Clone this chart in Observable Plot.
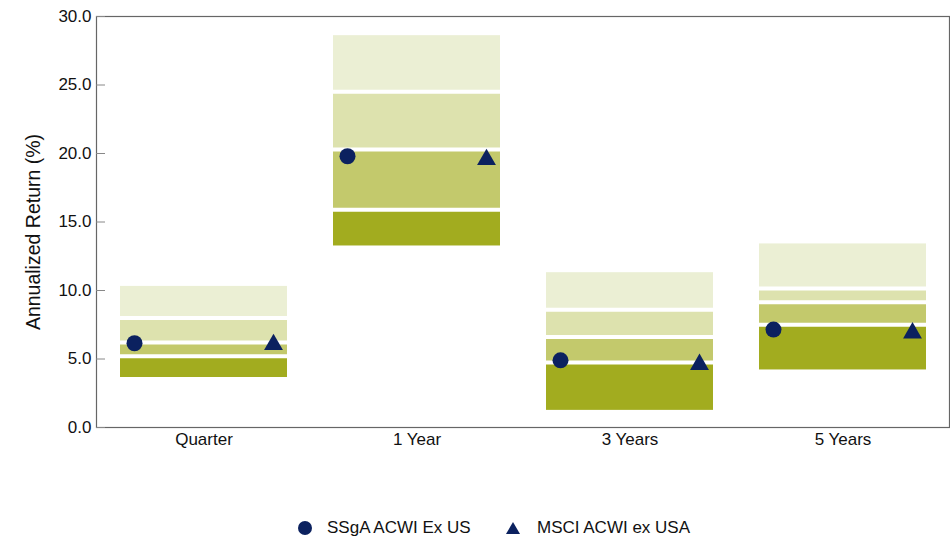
<!DOCTYPE html>
<html><head><meta charset="utf-8">
<script src="https://cdn.jsdelivr.net/npm/d3@7"></script>
<script src="https://cdn.jsdelivr.net/npm/@observablehq/plot@0.6"></script>
<style>
body{margin:0;background:#fff;font-family:"Liberation Sans",Arial,sans-serif;}
#wrap{position:relative;width:950px;height:541px;overflow:hidden;}
.leg{position:absolute;top:516px;height:24px;display:flex;align-items:center;font-size:17px;color:#111;white-space:nowrap;}
</style></head><body>
<div id="wrap"><div id="chart"></div>
<div class="leg" style="left:298px"><svg width="14" height="14" viewBox="-7 -7 14 14" style="margin-right:15px"><circle r="7" fill="#0b215f"/></svg><span>SSgA ACWI Ex US</span></div>
<div class="leg" style="left:506px"><svg width="14" height="14" viewBox="-7 -7 14 14" style="margin-right:17px"><path d="M0,-6L7,6L-7,6Z" fill="#0b215f"/></svg><span>MSCI ACWI ex USA</span></div>
</div>
<script>
const categories = ["Quarter", "1 Year", "3 Years", "5 Years"];
const p95 = [10.3, 28.6, 11.3, 13.4];
const p75 = [8.0, 24.5, 8.6, 10.15];
const p50 = [6.2, 20.3, 6.6, 9.15];
const p25 = [5.2, 15.9, 4.75, 7.5];
const p05 = [3.65, 13.25, 1.25, 4.2];
const fund = [6.15, 19.8, 4.9, 7.15];
const bench = [6.05, 19.55, 4.6, 6.9];
const seriesNames = ["SSgA ACWI Ex US", "MSCI ACWI ex USA"];
const yTicks = [0, 5, 10, 15, 20, 25, 30];
const yLabel = "Annualized Return (%)";
const bandNames = ["5th-25th", "25th-50th", "50th-75th", "75th-95th"];
const bandColors = ["#a2ac1f", "#c3c96c", "#dde2ae", "#ebefd4"];
const navy = "#0b215f";

const segments = [];
const bounds = [];
categories.forEach((c, i) => {
  const edges = [p05[i], p25[i], p50[i], p75[i], p95[i]];
  for (let k = 0; k < 4; k++) segments.push({cat: c, band: bandNames[k], lo: edges[k], hi: edges[k + 1]});
  for (let k = 1; k < 4; k++) bounds.push({cat: c, v: edges[k]});
});
const fundPts = categories.map((c, i) => ({cat: c, v: fund[i], s: seriesNames[0]}));
const benchPts = categories.map((c, i) => ({cat: c, v: bench[i], s: seriesNames[1]}));

const chart = Plot.plot({
  width: 950,
  height: 470,
  marginLeft: 96,
  marginRight: 1,
  marginTop: 16,
  marginBottom: 43,
  style: {fontFamily: "Liberation Sans, Arial, sans-serif", fontSize: "17px", color: "#111", background: "#fff"},
  x: {domain: categories, paddingInner: 0.217, paddingOuter: 0.1085, label: null},
  y: {domain: [0, 30], label: null},
  color: {domain: bandNames, range: bandColors},
  marks: [
    Plot.barY(segments, {x: "cat", y1: "lo", y2: "hi", fill: "band"}),
    Plot.tickY(bounds, {x: "cat", y: "v", stroke: "white", strokeWidth: 4}),
    Plot.dot(fundPts, {x: "cat", y: "v", r: 8, fill: navy, symbol: "circle", dx: -69.5}),
    Plot.dot(benchPts, {x: "cat", y: "v", r: 7, fill: navy, symbol: "triangle", dx: 69.5}),
    Plot.frame({stroke: "#666", strokeWidth: 1.2}),
    Plot.axisY({ticks: yTicks, tickSize: 9, dx: 9, tickFormat: () => "", stroke: "#888", label: null}),
    Plot.axisY({ticks: yTicks, tickSize: 0, tickPadding: 5, tickFormat: d => d.toFixed(1), label: null}),
    Plot.axisX({tickSize: 0, tickPadding: 5, label: null}),
    Plot.text([yLabel], {frameAnchor: "left", textAnchor: "middle", rotate: -90, dx: -63, dy: 10, fontSize: 19.5, fill: "#111"})
  ]
});
document.getElementById("chart").appendChild(chart);
</script>
</body></html>
